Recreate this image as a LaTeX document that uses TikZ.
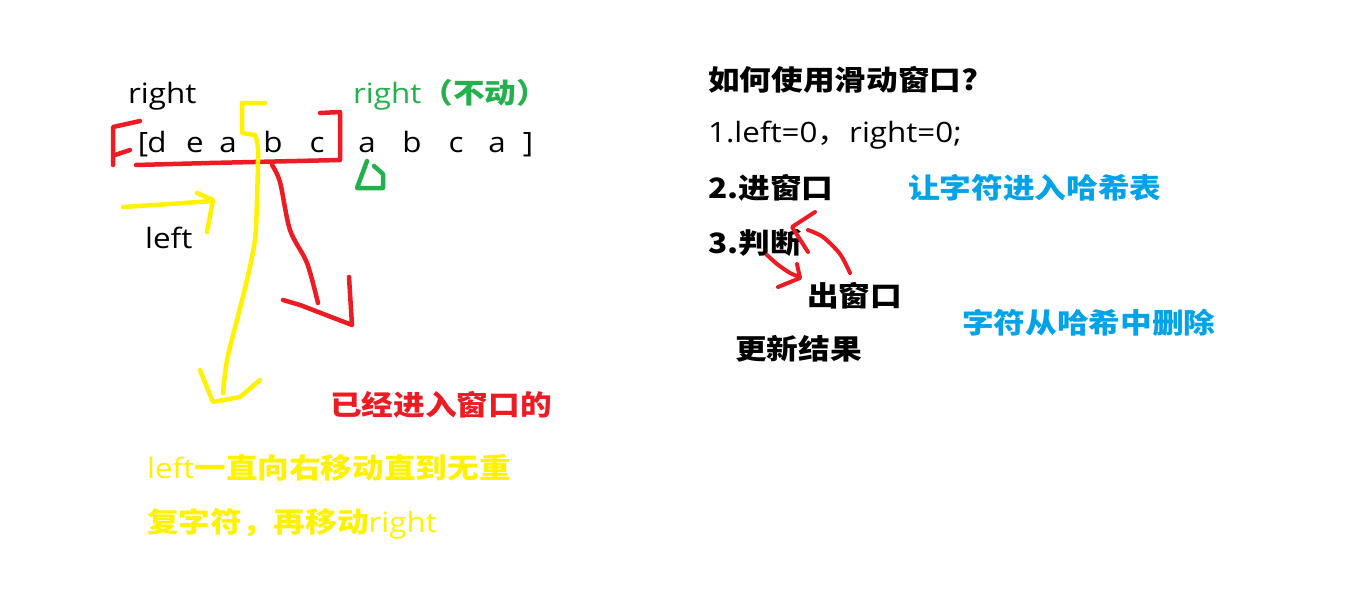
\documentclass[tikz,border=0pt]{standalone}
\usepackage{fontspec}
\setmainfont{Open Sans}[FakeStretch=1.12]
\newfontfamily\cjk{Noto Sans CJK SC}[FakeStretch=1.13]
\definecolor{pred}{HTML}{ED1C24}
\definecolor{pyellow}{HTML}{FFF200}
\definecolor{pgreen}{HTML}{22B14C}
\definecolor{pblue}{HTML}{00A2E8}
\begin{document}
\begin{tikzpicture}[x=1pt,y=-1pt,
  txt/.style={inner sep=0pt,anchor=base west,font=\fontsize{28}{32}\selectfont},
  ch/.style={inner sep=0pt,anchor=base,font=\fontsize{28}{32}\selectfont},
  stroke/.style={line width=4.5pt,line cap=round,line join=round}]
\fill[white] (0,0) rectangle (1361,590);
\useasboundingbox (0,0) rectangle (1361,590);
% left part
\node[txt] (r1) at (128,103) {right};
\node[txt,text=pgreen] (r2) at (353,103) {right{\cjk\bfseries（不动）}};
\node[ch] (lb) at (143,152) {[};
\node[ch] (c1) at (157,152) {d};
\node[ch] (c2) at (195,152) {e};
\node[ch] (c3) at (228,152) {a};
\node[ch] (c4) at (273,152) {b};
\node[ch] (c5) at (317,152) {c};
\node[ch] (c6) at (367,152) {a};
\node[ch] (c7) at (412,152) {b};
\node[ch] (c8) at (456,152) {c};
\node[ch] (c9) at (497,152) {a};
\node[ch] (rb) at (528,152) {]};
\node[txt] (lft) at (145,248) {left};
\node[txt,text=pred] (entered) at (330,415) {\cjk\bfseries 已经进入窗口的};
\node[txt,text=pyellow] (y1) at (147,478) {left{\cjk\bfseries 一直向右移动直到无重}};
\node[txt,text=pyellow] (y2) at (147,532) {{\cjk\bfseries 复字符，再移动}right};
% red window
\draw[stroke,pred] (140,121) -- (113,127) -- (113,165);
\draw[stroke,pred] (115,155) -- (130,150);
\draw[stroke,pred] (136,165) -- (210,163) -- (340,160) -- (340,112) -- (320,113);
\draw[stroke,pred] plot[smooth] coordinates {(272,165) (280,182) (290,230) (307,263) (318,303)};
\draw[stroke,pred] (283,300) -- (300,305) -- (352,325) -- (349,277);
% yellow
\draw[stroke,pyellow] (265,103) -- (242,103) -- (242,133) -- (255,135);
\draw[stroke,pyellow] plot[smooth] coordinates {(255,135) (258,150) (257,200) (255,240) (247,280) (237,320) (227,360) (223,393)};
\draw[stroke,pyellow] (200,370) -- (213,402) -- (240,397) -- (260,380);
\draw[stroke,pyellow] (123,207) -- (170,204) -- (212,201);
\draw[stroke,pyellow] (197,193) -- (213,200) -- (207,232);
% green
\draw[stroke,pgreen] (367,161) -- (357,188) -- (383,188) -- (383,174) -- (374,166);
% right part
\node[txt] (title) at (708,90) {\cjk\bfseries 如何使用滑动窗口?};
\node[txt] (s1) at (708,142) {1.left=0{\cjk ，}right=0;};
\node[txt] (s2) at (708,198) {\cjk\bfseries 2.进窗口};
\node[txt,text=pblue] (b1) at (908,198) {\cjk\bfseries 让字符进入哈希表};
\node[txt] (s3) at (708,253) {\cjk\bfseries 3.判断};
\node[txt] (out) at (807,306) {\cjk\bfseries 出窗口};
\node[txt] (upd) at (735,359) {\cjk\bfseries 更新结果};
\node[txt,text=pblue] (b2) at (962,333) {\cjk\bfseries 字符从哈希中删除};
% red loop arrows
\draw[stroke,pred,line width=4pt] plot[smooth] coordinates {(767,255) (777,264) (790,273) (800,277)};
\draw[stroke,pred,line width=4pt] (797,264) -- (800,278) -- (778,287);
\draw[stroke,pred,line width=4pt] plot[smooth] coordinates {(850,273) (840,254) (823,237) (808,230)};
\draw[stroke,pred,line width=4pt] (815,212) -- (792,227) -- (808,252);
\end{tikzpicture}
\end{document}
